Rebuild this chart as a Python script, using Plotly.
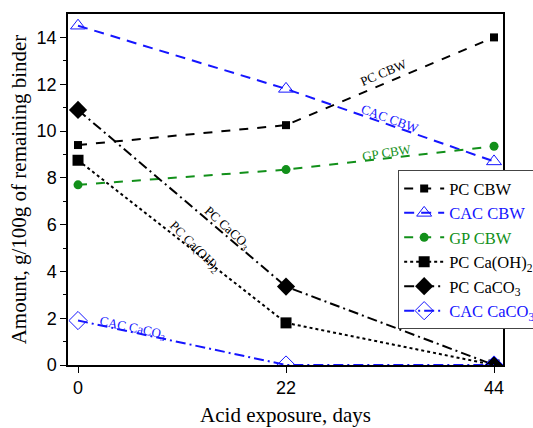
import plotly.graph_objects as go

days = [0, 22, 44]
pc_cbw = [9.4, 10.25, 14.0]
cac_cbw = [14.5, 11.8, 8.7]
gp_cbw = [7.7, 8.35, 9.35]
pc_caoh2 = [8.75, 1.8, 0.0]
pc_caco3 = [10.9, 3.35, 0.0]
cac_caco3 = [1.9, 0.0, 0.0]

BLUE = "#1515ff"
GREEN = "#12901a"
BLACK = "#000000"

fig = go.Figure()

def add(y, name, color, dash, width, symbol, msize, mcolor, mline=None):
    fig.add_trace(go.Scatter(
        x=days, y=y, name=name, mode="lines+markers", cliponaxis=True,
        line=dict(color=color, dash=dash, width=width),
        marker=dict(symbol=symbol, size=msize, color=mcolor,
                    line=dict(color=color, width=mline if mline else 0)),
    ))

add(pc_cbw, "PC CBW", BLACK, "dash", 2, "square", 8, BLACK)
add(cac_cbw, "<span style='color:%s'>CAC CBW</span>" % BLUE, BLUE, "10px,7px", 2, "triangle-up-open", 13, BLUE, 1)
add(gp_cbw, "<span style='color:%s'>GP CBW</span>" % GREEN, GREEN, "dash", 2, "circle", 9, GREEN)
add(pc_caoh2, "PC Ca(OH)<sub>2</sub>", BLACK, "dot", 2, "square", 11, BLACK)
add(pc_caco3, "PC CaCO<sub>3</sub>", BLACK, "10px,4px,2px,4px", 2, "diamond", 14, BLACK)
add(cac_caco3, "<span style='color:%s'>CAC CaCO<sub>3</sub></span>" % BLUE, BLUE, "10px,4px,2px,4px", 2, "diamond-open", 14, BLUE, 1)

ann_font = "Liberation Serif"
annots = [
    ("PC CBW", 32.3, 12.5, -23, BLACK),
    ("CAC CBW", 33.0, 10.54, 20, BLUE),
    ("GP CBW", 32.7, 9.09, -9, GREEN),
    ("PC CaCO<sub>3</sub>", 15.8, 5.85, 42, BLACK),
    ("PC Ca(OH)<sub>2</sub>", 12.4, 5.04, 45, BLACK),
    ("CAC CaCO<sub>3</sub>", 5.8, 1.58, 12, BLUE),
]
for t, x, y, a, c in annots:
    fig.add_annotation(x=x, y=y, text=t, showarrow=False, textangle=a,
                       font=dict(family=ann_font, size=13, color=c))

fig.update_layout(
    width=533, height=428,
    margin=dict(l=68, r=30, t=14, b=63, autoexpand=False),
    paper_bgcolor="white", plot_bgcolor="white",
    showlegend=True,
    legend=dict(x=0.759, y=0.555, xanchor="left", yanchor="top",
                bgcolor="white", bordercolor="#444", borderwidth=1,
                font=dict(family="Liberation Serif", size=16.5, color=BLACK),
                tracegroupgap=0, itemwidth=40),
    xaxis=dict(range=[-1.06, 44.95], tickvals=days, ticktext=["0", "22", "44"],
               showgrid=False, zeroline=False, showline=True, linecolor="black", linewidth=1.5,
               mirror=True, ticks="outside", ticklen=6, tickcolor="black",
               tickfont=dict(family="Liberation Sans", size=18, color=BLACK),
               title=dict(text="Acid exposure, days",
                          font=dict(family="Liberation Serif", size=21, color=BLACK), standoff=10)),
    yaxis=dict(range=[0, 15], tickvals=[0, 2, 4, 6, 8, 10, 12, 14],
               showgrid=False, zeroline=False, showline=True, linecolor="black", linewidth=1.5,
               mirror=True, ticks="outside", ticklen=6, tickcolor="black",
               minor=dict(tickvals=[1, 3, 5, 7, 9, 11, 13], ticks="outside", ticklen=3, tickcolor="black"),
               tickfont=dict(family="Liberation Sans", size=18, color=BLACK),
               title=dict(text="Amount, g/100g of remaining binder",
                          font=dict(family="Liberation Serif", size=21, color=BLACK), standoff=4)),
)

fig.write_html("out.html")
